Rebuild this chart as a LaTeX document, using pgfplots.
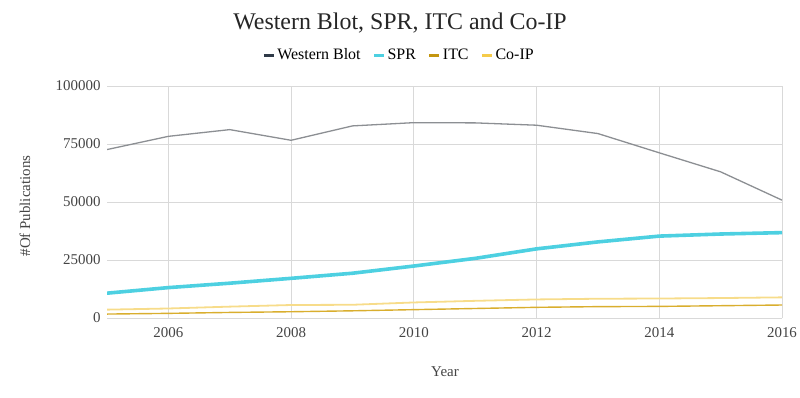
\documentclass[border=0pt]{standalone}
\usepackage{fontspec}
\setmainfont{Liberation Serif}
\usepackage{pgfplots}
\pgfplotsset{compat=1.18}
\definecolor{wb}{HTML}{8C8F93}
\definecolor{wbleg}{HTML}{2F3A48}
\definecolor{spr}{HTML}{4DD0E1}
\definecolor{itc}{HTML}{D9AE2E}
\definecolor{itcleg}{HTML}{C4960F}
\definecolor{coip}{HTML}{F7DC8A}
\definecolor{coipleg}{HTML}{F5CB4A}
\definecolor{ticktxt}{HTML}{444444}
\begin{document}
\begin{tikzpicture}[x=1bp,y=1bp]
\path[use as bounding box] (0,0) rectangle (800,397);
\node[text=black!85] at (400,374) {\fontsize{24}{28}\selectfont Western Blot, SPR, ITC and Co-IP};
\node[rotate=90, text=ticktxt] at (25,191) {\fontsize{15}{18}\selectfont \#Of Publications};
\node[text=ticktxt] at (445,25) {\fontsize{15}{18}\selectfont Year};
\begin{axis}[
  at={(107bp,79bp)}, anchor=south west,
  scale only axis, width=675bp, height=232bp,
  xmin=2005, xmax=2016, ymin=0, ymax=100000,
  axis line style={draw=none},
  xtick={2006,2008,...,2016},
  ytick={0,25000,50000,75000,100000},
  scaled y ticks=false,
  /pgf/number format/fixed,
  /pgf/number format/1000 sep={},
  /pgf/number format/assume math mode=true,
  tick label style={font=\fontsize{15}{18}\selectfont, text=ticktxt},
  xticklabel style={yshift=-6bp},
  yticklabel style={xshift=-3bp},
  major tick length=0pt,
  xmajorgrids, ymajorgrids,
  major grid style={color=black!15, line width=0.9bp},
  extra y ticks={0}, extra y tick labels={},
  extra y tick style={grid style={color=black!38, line width=1.8bp}},
  legend style={draw=none, fill=none, at={(0.4326,1.1336)}, anchor=center,
    font=\fontsize{16}{19}\selectfont,
    /tikz/every even column/.append style={column sep=10bp}},
  legend columns=4,
]
\addplot[wb, line width=1.3bp,
  legend image code/.code={\draw[wbleg, line width=3bp] (0bp,0bp) -- (10bp,0bp);}]
  coordinates {(2005,72600) (2006,78300) (2007,81200) (2008,76600) (2009,82800) (2010,84200) (2011,84100) (2012,83100) (2013,79500) (2014,71200) (2015,63000) (2016,50800)};
\addlegendentry{Western Blot}
\addplot[spr, line width=3.6bp,
  legend image code/.code={\draw[spr, line width=3bp] (0bp,0bp) -- (10bp,0bp);}]
  coordinates {(2005,10700) (2006,13100) (2007,15000) (2008,17100) (2009,19300) (2010,22400) (2011,25700) (2012,29800) (2013,32800) (2014,35300) (2015,36200) (2016,36800)};
\addlegendentry{SPR}
\addplot[itc, line width=1.4bp,
  legend image code/.code={\draw[itcleg, line width=3bp] (0bp,0bp) -- (10bp,0bp);}]
  coordinates {(2005,1700) (2006,2000) (2007,2400) (2008,2700) (2009,3100) (2010,3600) (2011,4100) (2012,4600) (2013,4900) (2014,5000) (2015,5300) (2016,5600)};
\addlegendentry{ITC}
\addplot[coip, line width=1.8bp,
  legend image code/.code={\draw[coipleg, line width=3bp] (0bp,0bp) -- (10bp,0bp);}]
  coordinates {(2005,3600) (2006,4100) (2007,4900) (2008,5600) (2009,5700) (2010,6700) (2011,7400) (2012,8000) (2013,8300) (2014,8400) (2015,8600) (2016,8900)};
\addlegendentry{Co-IP}
\end{axis}
\end{tikzpicture}
\end{document}
